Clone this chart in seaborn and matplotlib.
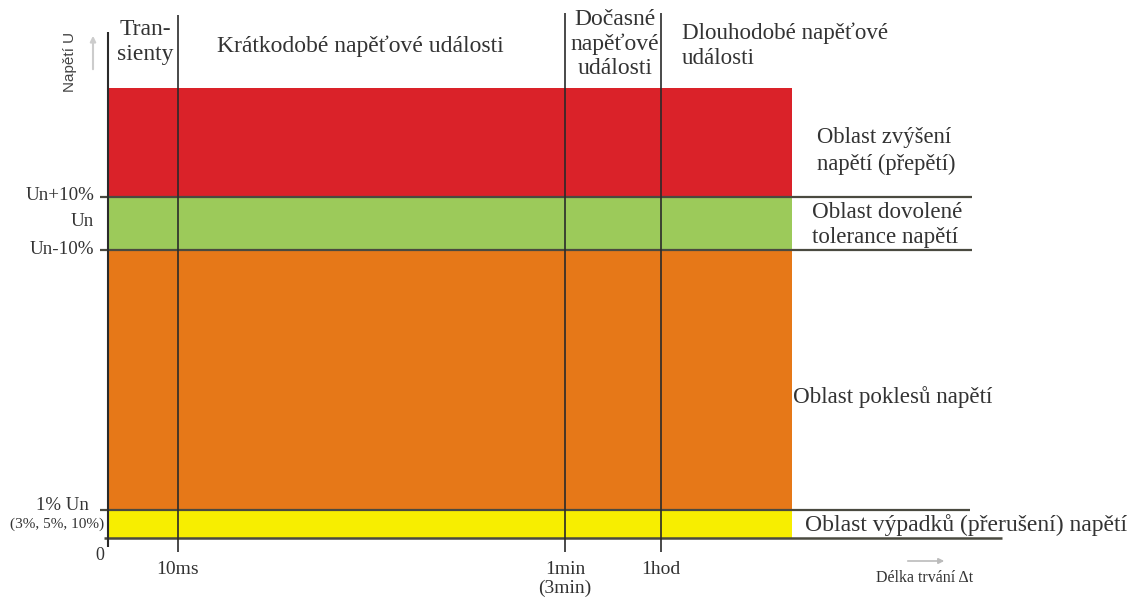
import matplotlib
matplotlib.use("Agg")
import matplotlib.pyplot as plt
import seaborn as sns

# --- data: diagram in figure pixel units (x to the right, y downwards)
band_names = ["Oblast výpadků (přerušení) napětí", "Oblast poklesů napětí",
              "Oblast dovolené\ntolerance napětí", "Oblast zvýšení\nnapětí (přepětí)"]
band_bottom = [538, 510, 250, 197]
band_top = [510, 250, 197, 88]
band_colors = ["#F7EE00", "#E67818", "#9CCA5A", "#DA2229"]
band_start = 108
band_end = 792

time_labels = ["10ms", "1min\n(3min)", "1hod"]
time_x = [178, 565, 661]

level_labels = ["Un+10%", "Un", "Un-10%"]
level_y = [195, 222, 250]

period_labels = ["Tran-\nsienty", "Krátkodobé napěťové události",
                 "Dočasné\nnapěťové\nudálosti", "Dlouhodobé napěťové\nudálosti"]

sns.set_theme(style="white")
plt.rcParams["font.family"] = ["Liberation Serif", "DejaVu Serif"]

fig = plt.figure(figsize=(11.37, 6.03), dpi=100)
ax = fig.add_axes([0, 0, 1, 1])
ax.set_xlim(0, 1137)
ax.set_ylim(603, 0)
ax.axis("off")

txt = "#333333"
line_c = "#4a4a40"

# coloured bands
for b, t, c in zip(band_bottom, band_top, band_colors):
    ax.barh((b + t) / 2, band_end - band_start, height=b - t, left=band_start,
            color=c, edgecolor="none", zorder=1)

# horizontal boundary lines
ax.hlines([197, 250], 100, 972, color=line_c, lw=1.6, zorder=3)
ax.hlines(510, 100, 970, color=line_c, lw=1.6, zorder=3)
ax.hlines(538, 104, 1002, color=line_c, lw=1.8, zorder=3)

# vertical lines
ax.vlines(band_start, 32, 547, color="#2a2a2a", lw=1.5, zorder=4)
ax.vlines(time_x[0], 15, 552, color="#2a2a2a", lw=1.2, zorder=4)
ax.vlines(time_x[1:], 13, 552, color="#2a2a2a", lw=1.2, zorder=4)

# time labels
for lab, x in zip(time_labels, time_x):
    ax.text(x, 561, lab, ha="center", va="top", fontsize=14, color=txt, linespacing=1.1)

# level labels
for lab, y in zip(level_labels, level_y):
    ax.text(94, y, lab, ha="right", va="center", fontsize=13.7, color=txt)
ax.text(62, 505, "1% Un", ha="center", va="center", fontsize=13.5, color=txt)
ax.text(57, 524, "(3%, 5%, 10%)", ha="center", va="center", fontsize=11, color=txt)
ax.text(100, 555, "0", ha="center", va="center", fontsize=13, color=txt)

# period headers
ax.text(145, 42, period_labels[0], ha="center", va="center", fontsize=17,
        color=txt, linespacing=1.24)
ax.text(360, 46, period_labels[1], ha="center", va="center", fontsize=17, color=txt)
ax.text(615, 44, period_labels[2], ha="center", va="center", fontsize=17,
        color=txt, linespacing=1.22)
ax.text(682, 46, period_labels[3], ha="left", va="center", fontsize=16.6,
        color=txt, linespacing=1.24)

# band descriptions
ax.text(817, 151, band_names[3], ha="left", va="center", fontsize=16.3, color=txt, linespacing=1.38)
ax.text(812, 225, band_names[2], ha="left", va="center", fontsize=16.6, color=txt, linespacing=1.22)
ax.text(793, 397, band_names[1], ha="left", va="center", fontsize=16.6, color=txt)
ax.text(805, 525, band_names[0], ha="left", va="center", fontsize=17, color=txt)

# axis titles with arrows
ax.text(70, 62, "Napětí U", ha="center", va="center", rotation=90, fontsize=11,
        color="#444444", family=["Liberation Sans", "DejaVu Sans"])
ax.annotate("", xy=(93, 33), xytext=(93, 72),
            arrowprops=dict(arrowstyle="-|>", color="#cccccc", lw=1.5, mutation_scale=8))
ax.text(925, 578, "Délka trvání Δt", ha="center", va="center", fontsize=11.5, color=txt)
ax.annotate("", xy=(947, 561), xytext=(905, 561),
            arrowprops=dict(arrowstyle="-|>", color="#bbbbbb", lw=1.2, mutation_scale=8))

fig.savefig("out.png", dpi=100)
